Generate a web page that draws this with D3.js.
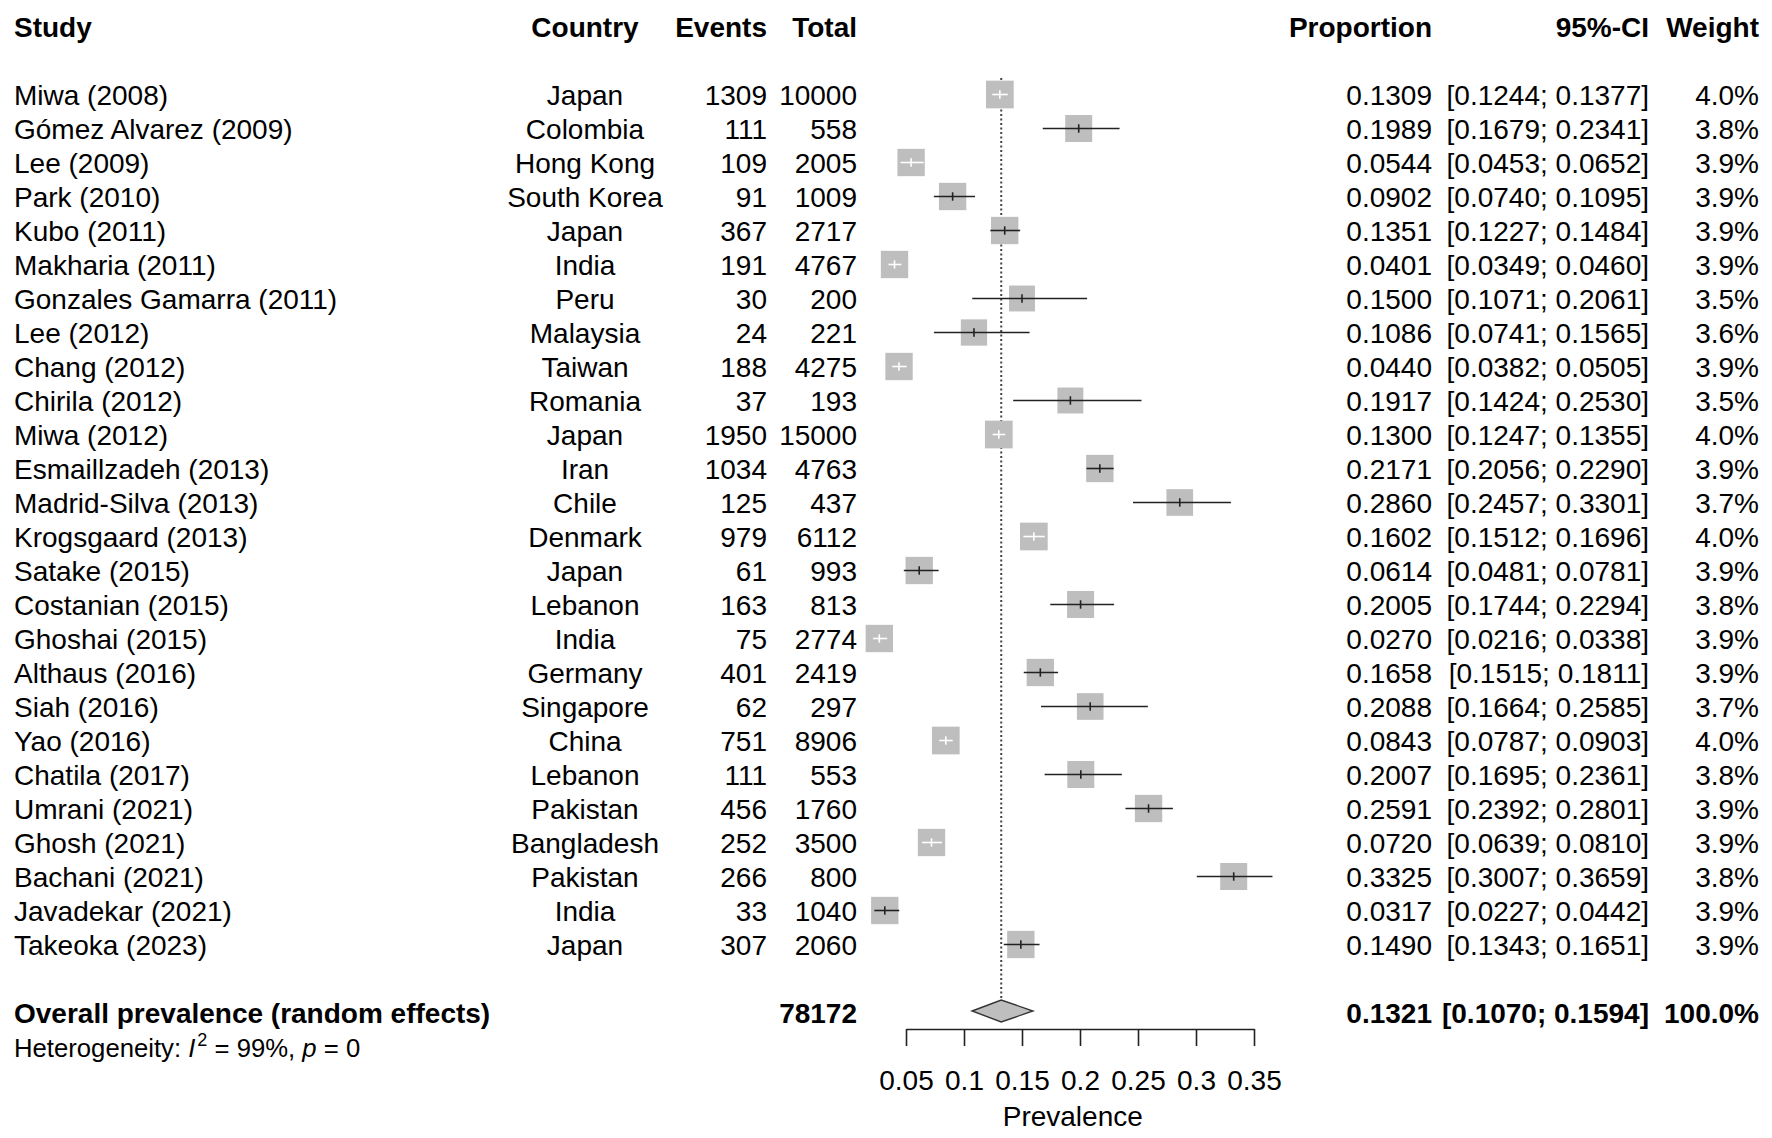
<!DOCTYPE html>
<html>
<head>
<meta charset="utf-8">
<script src="https://cdn.jsdelivr.net/npm/d3@7"></script>
<style>
  body { margin: 0; background: #fff; }
  svg text { font-family: "Liberation Sans", Arial, sans-serif; fill: #000; }
</style>
</head>
<body>
<div id="main_svg"></div>
<script>
// study data
var studies = ["Miwa (2008)", "Gómez Alvarez (2009)", "Lee (2009)", "Park (2010)", "Kubo (2011)",
    "Makharia (2011)", "Gonzales Gamarra (2011)", "Lee (2012)", "Chang (2012)", "Chirila (2012)",
    "Miwa (2012)", "Esmaillzadeh (2013)", "Madrid-Silva (2013)", "Krogsgaard (2013)", "Satake (2015)",
    "Costanian (2015)", "Ghoshai (2015)", "Althaus (2016)", "Siah (2016)", "Yao (2016)",
    "Chatila (2017)", "Umrani (2021)", "Ghosh (2021)", "Bachani (2021)", "Javadekar (2021)",
    "Takeoka (2023)"];
var countries = ["Japan", "Colombia", "Hong Kong", "South Korea", "Japan", "India", "Peru", "Malaysia",
    "Taiwan", "Romania", "Japan", "Iran", "Chile", "Denmark", "Japan", "Lebanon", "India", "Germany",
    "Singapore", "China", "Lebanon", "Pakistan", "Bangladesh", "Pakistan", "India", "Japan"];
var events = [1309, 111, 109, 91, 367, 191, 30, 24, 188, 37, 1950, 1034, 125, 979, 61, 163, 75, 401,
    62, 751, 111, 456, 252, 266, 33, 307];
var totals = [10000, 558, 2005, 1009, 2717, 4767, 200, 221, 4275, 193, 15000, 4763, 437, 6112, 993,
    813, 2774, 2419, 297, 8906, 553, 1760, 3500, 800, 1040, 2060];
var proportions = [0.1309, 0.1989, 0.0544, 0.0902, 0.1351, 0.0401, 0.1500, 0.1086, 0.0440, 0.1917,
    0.1300, 0.2171, 0.2860, 0.1602, 0.0614, 0.2005, 0.0270, 0.1658, 0.2088, 0.0843, 0.2007, 0.2591,
    0.0720, 0.3325, 0.0317, 0.1490];
var lowers = [0.1244, 0.1679, 0.0453, 0.0740, 0.1227, 0.0349, 0.1071, 0.0741, 0.0382, 0.1424,
    0.1247, 0.2056, 0.2457, 0.1512, 0.0481, 0.1744, 0.0216, 0.1515, 0.1664, 0.0787, 0.1695, 0.2392,
    0.0639, 0.3007, 0.0227, 0.1343];
var uppers = [0.1377, 0.2341, 0.0652, 0.1095, 0.1484, 0.0460, 0.2061, 0.1565, 0.0505, 0.2530,
    0.1355, 0.2290, 0.3301, 0.1696, 0.0781, 0.2294, 0.0338, 0.1811, 0.2585, 0.0903, 0.2361, 0.2801,
    0.0810, 0.3659, 0.0442, 0.1651];
var weights = [4.0, 3.8, 3.9, 3.9, 3.9, 3.9, 3.5, 3.6, 3.9, 3.5, 4.0, 3.9, 3.7, 4.0, 3.9, 3.8, 3.9,
    3.9, 3.7, 4.0, 3.8, 3.9, 3.9, 3.8, 3.9, 3.9];

// pooled estimate
var overallLabel = "Overall prevalence (random effects)";
var overallTotal = 78172;
var overallEst = 0.1321, overallLower = 0.1070, overallUpper = 0.1594;
var overallWeight = "100.0%";

var axisTicks = [0.05, 0.1, 0.15, 0.2, 0.25, 0.3, 0.35];
var axisLabel = "Prevalence";

var width = 1772, height = 1138;
var fs = 28;

var data = studies.map(function (s, i) {
    return {study: s, country: countries[i], events: events[i], total: totals[i],
        est: proportions[i], lo: lowers[i], hi: uppers[i], w: weights[i], row: i};
});

var svg = d3.select("#main_svg").append("svg")
    .attr("width", width)
    .attr("height", height);

// scales
var x = d3.scaleLinear().domain([0.05, 0.35]).range([906, 1254]);
var yBase = d3.scaleLinear().domain([0, 1]).range([105, 139]); // text baseline per row
var box = d3.scaleSqrt().domain([0, 4.0]).range([0, 27.7]);

var f4 = d3.format(".4f");

var col = {study: 14, country: 585, events: 767, total: 857, prop: 1432, ci: 1649, weight: 1759};

// header
var header = svg.append("g").attr("font-weight", "bold").attr("font-size", fs);
[["Study", col.study, "start"], ["Country", col.country, "middle"], ["Events", col.events, "end"],
    ["Total", col.total, "end"], ["Proportion", col.prop, "end"], ["95%-CI", col.ci, "end"],
    ["Weight", col.weight, "end"]].forEach(function (h) {
    header.append("text").attr("x", h[1]).attr("y", 37).attr("text-anchor", h[2]).text(h[0]);
});

// reference line at pooled estimate
var yOverall = yBase(27);
svg.append("line")
    .attr("x1", x(overallEst)).attr("x2", x(overallEst))
    .attr("y1", yBase(0) - 27).attr("y2", yOverall - 23)
    .attr("stroke", "#444").attr("stroke-width", 2)
    .attr("stroke-dasharray", "2,2.5");

// text columns
var rows = svg.append("g").attr("font-size", fs);
function addCol(key, xpos, anchor, fmt) {
    rows.selectAll(null).data(data).enter().append("text")
        .attr("x", xpos)
        .attr("y", function (d) { return yBase(d.row); })
        .attr("text-anchor", anchor)
        .text(function (d) { return fmt(d); });
}
addCol("study", col.study, "start", function (d) { return d.study; });
addCol("country", col.country, "middle", function (d) { return d.country; });
addCol("events", col.events, "end", function (d) { return d.events; });
addCol("total", col.total, "end", function (d) { return d.total; });
addCol("prop", col.prop, "end", function (d) { return f4(d.est); });
addCol("ci", col.ci, "end", function (d) { return "[" + f4(d.lo) + "; " + f4(d.hi) + "]"; });
addCol("weight", col.weight, "end", function (d) { return d.w.toFixed(1) + "%"; });

// squares + CIs
var marks = svg.append("g");
data.forEach(function (d) {
    var cy = yBase(d.row) - 10.5;
    var s = box(d.w);
    var cx = x(d.est);
    var inside = x(d.lo) >= cx - s / 2 && x(d.hi) <= cx + s / 2;
    var c = inside ? "#fff" : "#222";
    marks.append("rect")
        .attr("x", cx - s / 2).attr("y", cy - s / 2)
        .attr("width", s).attr("height", s)
        .attr("fill", "#bebebe");
    marks.append("line")
        .attr("x1", x(d.lo)).attr("x2", x(d.hi))
        .attr("y1", cy).attr("y2", cy)
        .attr("stroke", c).attr("stroke-width", 1.6);
    marks.append("line")
        .attr("x1", cx).attr("x2", cx)
        .attr("y1", cy - 4.2).attr("y2", cy + 4.2)
        .attr("stroke", c).attr("stroke-width", 1.6);
});

// pooled diamond
var dy = yOverall - 12;
svg.append("polygon")
    .attr("points", [[x(overallLower), dy], [x(overallEst), dy - 11],
        [x(overallUpper), dy], [x(overallEst), dy + 11]].join(" "))
    .attr("fill", "#bebebe").attr("stroke", "#333").attr("stroke-width", 1.4);

// overall row text
var ov = svg.append("g").attr("font-weight", "bold").attr("font-size", fs);
ov.append("text").attr("x", col.study).attr("y", yOverall).text(overallLabel);
ov.append("text").attr("x", col.total).attr("y", yOverall).attr("text-anchor", "end").text(overallTotal);
ov.append("text").attr("x", col.prop).attr("y", yOverall).attr("text-anchor", "end").text(f4(overallEst));
ov.append("text").attr("x", col.ci).attr("y", yOverall).attr("text-anchor", "end")
    .text("[" + f4(overallLower) + "; " + f4(overallUpper) + "]");
ov.append("text").attr("x", col.weight).attr("y", yOverall).attr("text-anchor", "end").text(overallWeight);

// heterogeneity
var het = svg.append("text").attr("x", col.study).attr("y", yOverall + 34).attr("font-size", 25.7);
het.append("tspan").text("Heterogeneity: ");
het.append("tspan").attr("font-style", "italic").text("I");
het.append("tspan").attr("font-size", 18).attr("dy", -11).attr("dx", 2).text("2");
het.append("tspan").attr("dy", 11).text(" = 99%, ");
het.append("tspan").attr("font-style", "italic").text("p");
het.append("tspan").text(" = 0");

// x axis
var axisY = 1029;
var ax = svg.append("g")
    .attr("transform", "translate(0," + axisY + ")")
    .call(d3.axisBottom(x).tickValues(axisTicks).tickSize(17).tickSizeOuter(0).tickPadding(24)
        .tickFormat(function (d) { return String(d); }));
ax.selectAll("path, line").attr("stroke", "#222").attr("stroke-width", 1.6);
ax.selectAll("text").attr("font-size", fs).attr("font-family", "Liberation Sans, Arial, sans-serif").attr("fill", "#000");

var xmid = (d3.min(lowers) + d3.max(uppers)) / 2;
svg.append("text")
    .attr("x", x(xmid)).attr("y", 1126)
    .attr("text-anchor", "middle").attr("font-size", fs)
    .text(axisLabel);
</script>
</body>
</html>
